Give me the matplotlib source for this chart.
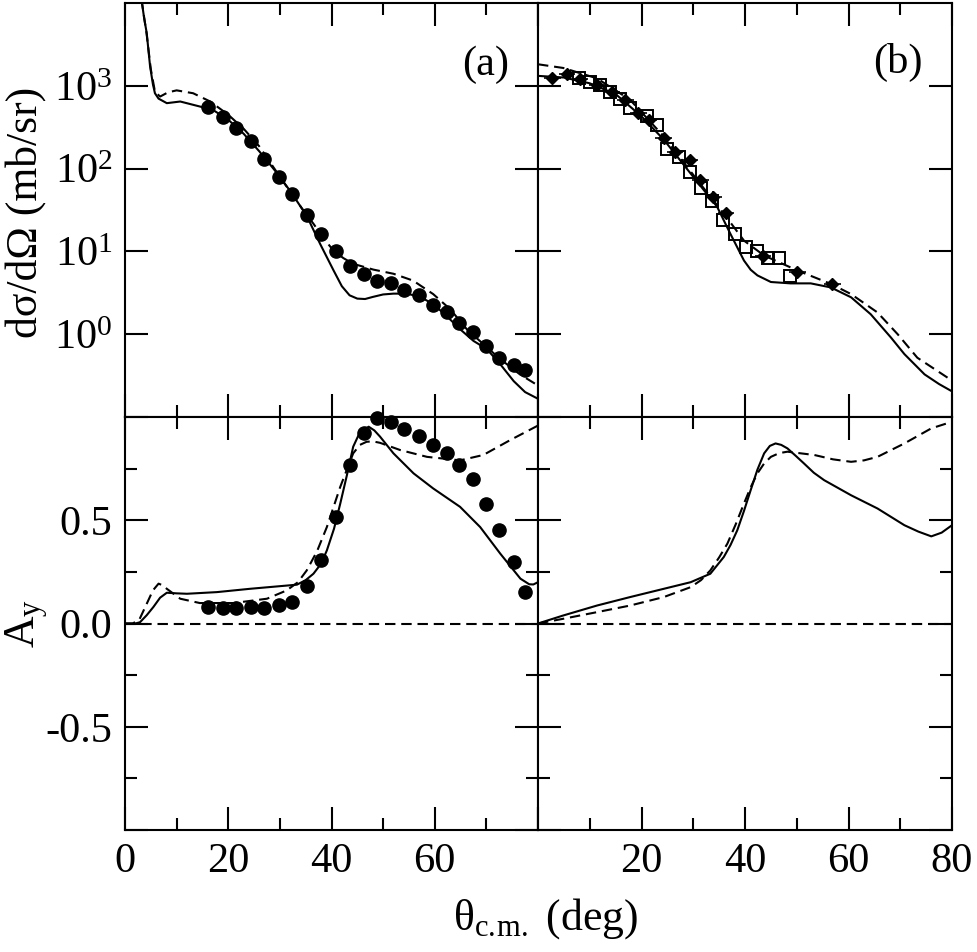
import matplotlib
matplotlib.use('Agg')
import matplotlib.pyplot as plt
from matplotlib.ticker import NullLocator, MultipleLocator

# ---- panel (a): cross section ----
th_xs_a = [16.0, 19.05, 21.5, 24.4, 27.0, 29.9, 32.4, 35.2, 37.9, 40.8, 43.5, 46.2,
           48.8, 51.55, 54.1, 57.0, 59.6, 62.3, 64.7, 67.4, 70.0, 72.5, 75.3, 77.5]
xs_a = [562, 425, 313, 215, 132, 79.6, 49, 27.8, 16.3, 10.2, 6.6, 5.4,
        4.35, 4.16, 3.42, 3.0, 2.24, 1.83, 1.35, 1.05, 0.72, 0.52, 0.43, 0.366]

th_sol_xa = [2.5, 3.2, 3.7, 4.2, 4.85, 5.4, 5.8, 6.5, 8.1, 10.7, 14.5, 17.0, 20.0,
             23.0, 26.0, 29.0, 32.0, 35.2, 37.8, 40.4, 42.0, 43.5, 45.0, 46.5, 48.0,
             50.0, 52.0, 54.6, 57.2, 59.7, 62.3, 64.9, 67.5, 70.1, 72.7, 75.3, 77.5,
             80.0]
sol_xa = [28200, 10960, 6600, 4365, 1738, 1050, 813, 700, 617, 646, 562, 513, 389,
          263, 162, 95.5, 53.7, 26.9, 12.3, 5.89, 3.80, 2.95, 2.69, 2.66, 2.82, 3.02,
          3.09, 3.09, 2.82, 2.31, 1.66, 1.15, 0.83, 0.66, 0.433, 0.271, 0.20, 0.166]

th_dash_xa = [2.5, 3.2, 4.2, 5.0, 5.8, 6.8, 8.3, 10.0, 13.2, 16.5, 20.0, 23.0, 26.0,
              28.7, 32.0, 34.5, 36.5, 38.5, 40.4, 42.3, 44.2, 48.1, 52.0, 55.8, 59.7,
              63.0, 66.2, 69.4, 72.7, 76.5, 80.0]
dash_xa = [28200, 10960, 4169, 1585, 851, 741, 832, 881, 813, 646, 447, 302, 186,
           105, 52.5, 31.6, 21.6, 14.3, 10.2, 8.3, 7.08, 6.03, 5.37, 4.44, 3.05,
           2.0, 1.15, 0.76, 0.50, 0.327, 0.24]

# ---- panel (b): cross section ----
th_diam_b = [2.8, 5.6, 8.1, 11.4, 14.3, 16.9, 19.4, 21.4, 24.3, 26.5, 29.3, 31.4,
             33.9, 36.3, 43.5, 50.1, 56.9]
diam_b = [1230, 1396, 1202, 1023, 851, 676, 468, 389, 234, 157, 126, 72,
          46, 29, 8.7, 5.6, 4.0]
th_sq_b = [8.0, 10.0, 11.9, 13.9, 15.8, 17.8, 21.0, 23.0, 25.0, 27.2, 29.3, 31.5,
           33.6, 35.8, 38.0, 40.2, 42.4, 44.4, 46.6, 48.7]
sq_b = [1259, 1122, 1023, 851, 692, 537, 427, 339, 174, 140, 91, 59,
        41, 23.7, 16.0, 11.2, 10.2, 8.3, 8.3, 5.0]

th_sol_xb = [0.0, 5.0, 10.0, 15.0, 20.0, 24.3, 29.5, 34.6, 37.2, 39.8, 41.1, 42.4,
             45.0, 48.8, 52.7, 56.6, 60.5, 64.3, 68.2, 70.8, 74.7, 77.5, 80.0]
sol_xb = [1318, 1259, 1072, 794, 427, 224, 87.1, 34.7, 16.2, 7.76, 6.0, 5.13,
          4.27, 4.11, 4.11, 3.67, 2.79, 1.74, 0.912, 0.575, 0.327, 0.25, 0.204]
th_dash_xb = [0.0, 4.9, 11.4, 17.8, 24.3, 30.8, 35.9, 39.8, 43.7, 50.1, 56.6, 60.5,
              65.6, 69.5, 73.3, 79.2, 80.0]
dash_xb = [1820, 1641, 1230, 676, 245, 72.4, 28.6, 13.5, 8.91, 5.89, 4.05, 3.05,
           1.83, 1.0, 0.52, 0.297, 0.275]

# ---- panel (a): analysing power ----
th_ay_a = th_xs_a
ay_a = [0.079, 0.076, 0.074, 0.079, 0.074, 0.092, 0.103, 0.184, 0.309, 0.516, 0.767,
        0.924, 0.994, 0.977, 0.94, 0.908, 0.864, 0.824, 0.767, 0.702, 0.581, 0.455,
        0.30, 0.152]
th_sol_aa = [0.0, 2.0, 2.9, 4.2, 5.5, 6.8, 8.1, 10.0, 12.0, 17.8, 24.2, 33.3, 35.0,
             36.5, 38.0, 39.1, 40.5, 41.7, 43.0, 44.2, 45.2, 46.2, 47.2, 48.3, 49.4,
             52.0, 55.9, 59.7, 64.9, 68.8, 72.7, 76.6, 78.3, 79.1, 80.0]
sol_aa = [0.0, 0.0, 0.006, 0.04, 0.08, 0.125, 0.149, 0.146, 0.144, 0.152, 0.168,
          0.188, 0.21, 0.241, 0.29, 0.354, 0.46, 0.581, 0.72, 0.856, 0.91, 0.937,
          0.953, 0.935, 0.905, 0.824, 0.727, 0.654, 0.565, 0.467, 0.338, 0.217,
          0.19, 0.189, 0.2]
th_dash_aa = [0.0, 1.5, 2.8, 4.2, 5.4, 6.5, 7.3, 8.1, 10.7, 14.5, 21.0, 27.5, 31.3,
              33.5, 35.2, 37.2, 39.1, 41.7, 44.2, 45.5, 46.8, 48.0, 49.4, 53.3, 58.5,
              64.9, 69.4, 74.6, 79.8, 80.0]
dash_aa = [0.0, 0.0, 0.02, 0.095, 0.16, 0.193, 0.185, 0.168, 0.12, 0.099, 0.099,
           0.12, 0.16, 0.2, 0.257, 0.35, 0.467, 0.662, 0.824, 0.865, 0.88, 0.882,
           0.875, 0.84, 0.807, 0.79, 0.816, 0.888, 0.956, 0.958]

# ---- panel (b): analysing power ----
th_sol_ab = [0.0, 4.9, 11.4, 17.8, 24.3, 29.5, 33.3, 35.9, 37.2, 38.5, 39.8, 41.1,
             42.4, 43.7, 44.8, 45.9, 47.0, 48.2, 49.8, 51.4, 53.3, 55.3, 60.5, 65.6,
             70.8, 73.5, 76.0, 78.0, 80.0]
sol_ab = [0.0, 0.039, 0.087, 0.128, 0.168, 0.2, 0.241, 0.322, 0.38, 0.451, 0.545,
          0.646, 0.745, 0.824, 0.86, 0.872, 0.865, 0.848, 0.812, 0.775, 0.73, 0.694,
          0.621, 0.557, 0.476, 0.445, 0.422, 0.44, 0.476]
th_dash_ab = [0.0, 4.9, 11.4, 17.8, 24.3, 29.5, 31.5, 33.3, 35.0, 36.6, 38.2, 39.8,
              41.1, 42.4, 43.7, 45.0, 46.6, 48.2, 53.4, 57.0, 60.5, 63.0, 65.6, 70.8,
              76.0, 80.0]
dash_ab = [0.0, 0.023, 0.055, 0.087, 0.128, 0.176, 0.21, 0.257, 0.32, 0.387, 0.48,
           0.581, 0.66, 0.727, 0.775, 0.807, 0.825, 0.832, 0.816, 0.795, 0.783, 0.79,
           0.807, 0.872, 0.945, 0.977]

zero_level = 0.0
xticks = [0, 20, 40, 60, 80]
xlabels_left = ['0', '20', '40', '60', '']
xlabels_right = ['', '20', '40', '60', '80']
log_ticks = [1, 10, 100, 1000]
log_labels = ['$10^{0}$', '$10^{1}$', '$10^{2}$', '$10^{3}$']
ay_ticks = [-1.0, -0.5, 0.0, 0.5, 1.0]
ay_labels = ['', '-0.5', '0.0', '0.5', '']

plt.rcParams.update({'font.family': 'Liberation Serif',
                     'mathtext.default': 'regular',
                     'font.size': 30})

FS = 30.5
LW = 1.5
DASH = (5.0, 2.8)

fig = plt.figure(figsize=(9.77, 9.52), dpi=100)
fig.patch.set_facecolor('white')

W, H = 977.0, 952.0
x0, x1, x2 = 125 / W, 538 / W, 952 / W
y_top, y_mid, y_bot = 1 - 3 / H, 1 - 417 / H, 1 - 830 / H

ax_xa = fig.add_axes([x0, y_mid, x1 - x0, y_top - y_mid])
ax_xb = fig.add_axes([x1, y_mid, x2 - x1, y_top - y_mid])
ax_aa = fig.add_axes([x0, y_bot, x1 - x0, y_mid - y_bot])
ax_ab = fig.add_axes([x1, y_bot, x2 - x1, y_mid - y_bot])


def style_axis(ax, xlabels, ylog):
    ax.set_xlim(0, 80)
    ax.set_xticks(xticks)
    ax.xaxis.set_minor_locator(MultipleLocator(10))
    if xlabels is None:
        ax.set_xticklabels([''] * len(xticks))
    else:
        ax.set_xticklabels(xlabels)
    if ylog:
        ax.set_yscale('log')
        ax.set_ylim(0.1, 1e4)
        ax.set_yticks(log_ticks)
        ax.set_yticklabels(log_labels)
        ax.yaxis.set_minor_locator(NullLocator())
    else:
        ax.set_ylim(-1.0, 1.0)
        ax.set_yticks(ay_ticks)
        ax.set_yticklabels(ay_labels)
        ax.yaxis.set_minor_locator(MultipleLocator(0.25))
    ax.tick_params(which='both', direction='in', top=True, right=True,
                   width=LW, labelsize=FS)
    ax.tick_params(which='major', length=16.5)
    ax.tick_params(which='minor', length=8.5)
    ax.tick_params(axis='x', pad=9)
    ax.tick_params(axis='y', pad=9)
    for sp in ax.spines.values():
        sp.set_linewidth(LW)


style_axis(ax_xa, None, True)
style_axis(ax_xb, None, True)
style_axis(ax_aa, xlabels_left, False)
style_axis(ax_ab, xlabels_right, False)
ax_xb.set_yticklabels([''] * len(log_ticks))
ax_ab.set_yticklabels([''] * len(ay_ticks))

# cross sections
ax_xa.plot(th_sol_xa, sol_xa, color='black', lw=LW)
ax_xa.plot(th_dash_xa, dash_xa, color='black', lw=LW, ls='--', dashes=DASH)
ax_xa.plot(th_xs_a, xs_a, ls='None', marker='o', ms=9.5, color='black')
ax_xa.text(0.872, 0.85, '(a)', transform=ax_xa.transAxes, ha='center', va='center',
           fontsize=FS)

ax_xb.plot(th_sol_xb, sol_xb, color='black', lw=LW)
ax_xb.plot(th_dash_xb, dash_xb, color='black', lw=LW, ls='--', dashes=DASH)
ax_xb.plot(th_sq_b, sq_b, ls='None', marker='s', ms=8, mew=1.4, color='black',
           fillstyle='none')
diam_err = [0.15 * v for v in diam_b]
ax_xb.errorbar(th_diam_b, diam_b, xerr=1.6, yerr=diam_err, fmt='D', ms=6.5,
               color='black', elinewidth=1.2, capsize=0)
ax_xb.text(0.87, 0.857, '(b)', transform=ax_xb.transAxes, ha='center', va='center',
           fontsize=FS)

# analysing powers
for ax in (ax_aa, ax_ab):
    ax.axhline(zero_level, color='black', lw=LW, ls='--', dashes=DASH)

ax_aa.plot(th_sol_aa, sol_aa, color='black', lw=LW)
ax_aa.plot(th_dash_aa, dash_aa, color='black', lw=LW, ls='--', dashes=DASH)
ax_aa.plot(th_ay_a, ay_a, ls='None', marker='o', ms=9.5, color='black',
           clip_on=False, zorder=5)

ax_ab.plot(th_sol_ab, sol_ab, color='black', lw=LW)
ax_ab.plot(th_dash_ab, dash_ab, color='black', lw=LW, ls='--', dashes=DASH)

# axis titles
fig.text(26 / W, 1 - 212 / H, 'dσ/dΩ (mb/sr)', rotation=90, ha='center',
         va='center', fontsize=FS + 1)
fig.text(27 / W, 1 - 623 / H, '$A_y$', rotation=90, ha='center', va='center',
         fontsize=FS + 1)
fig.text(546 / W, 1 - 930 / H, r'θ$_{c.\!m.}$ (deg)', ha='center', va='baseline',
         fontsize=FS + 1)

fig.savefig('out.png', dpi=100)
